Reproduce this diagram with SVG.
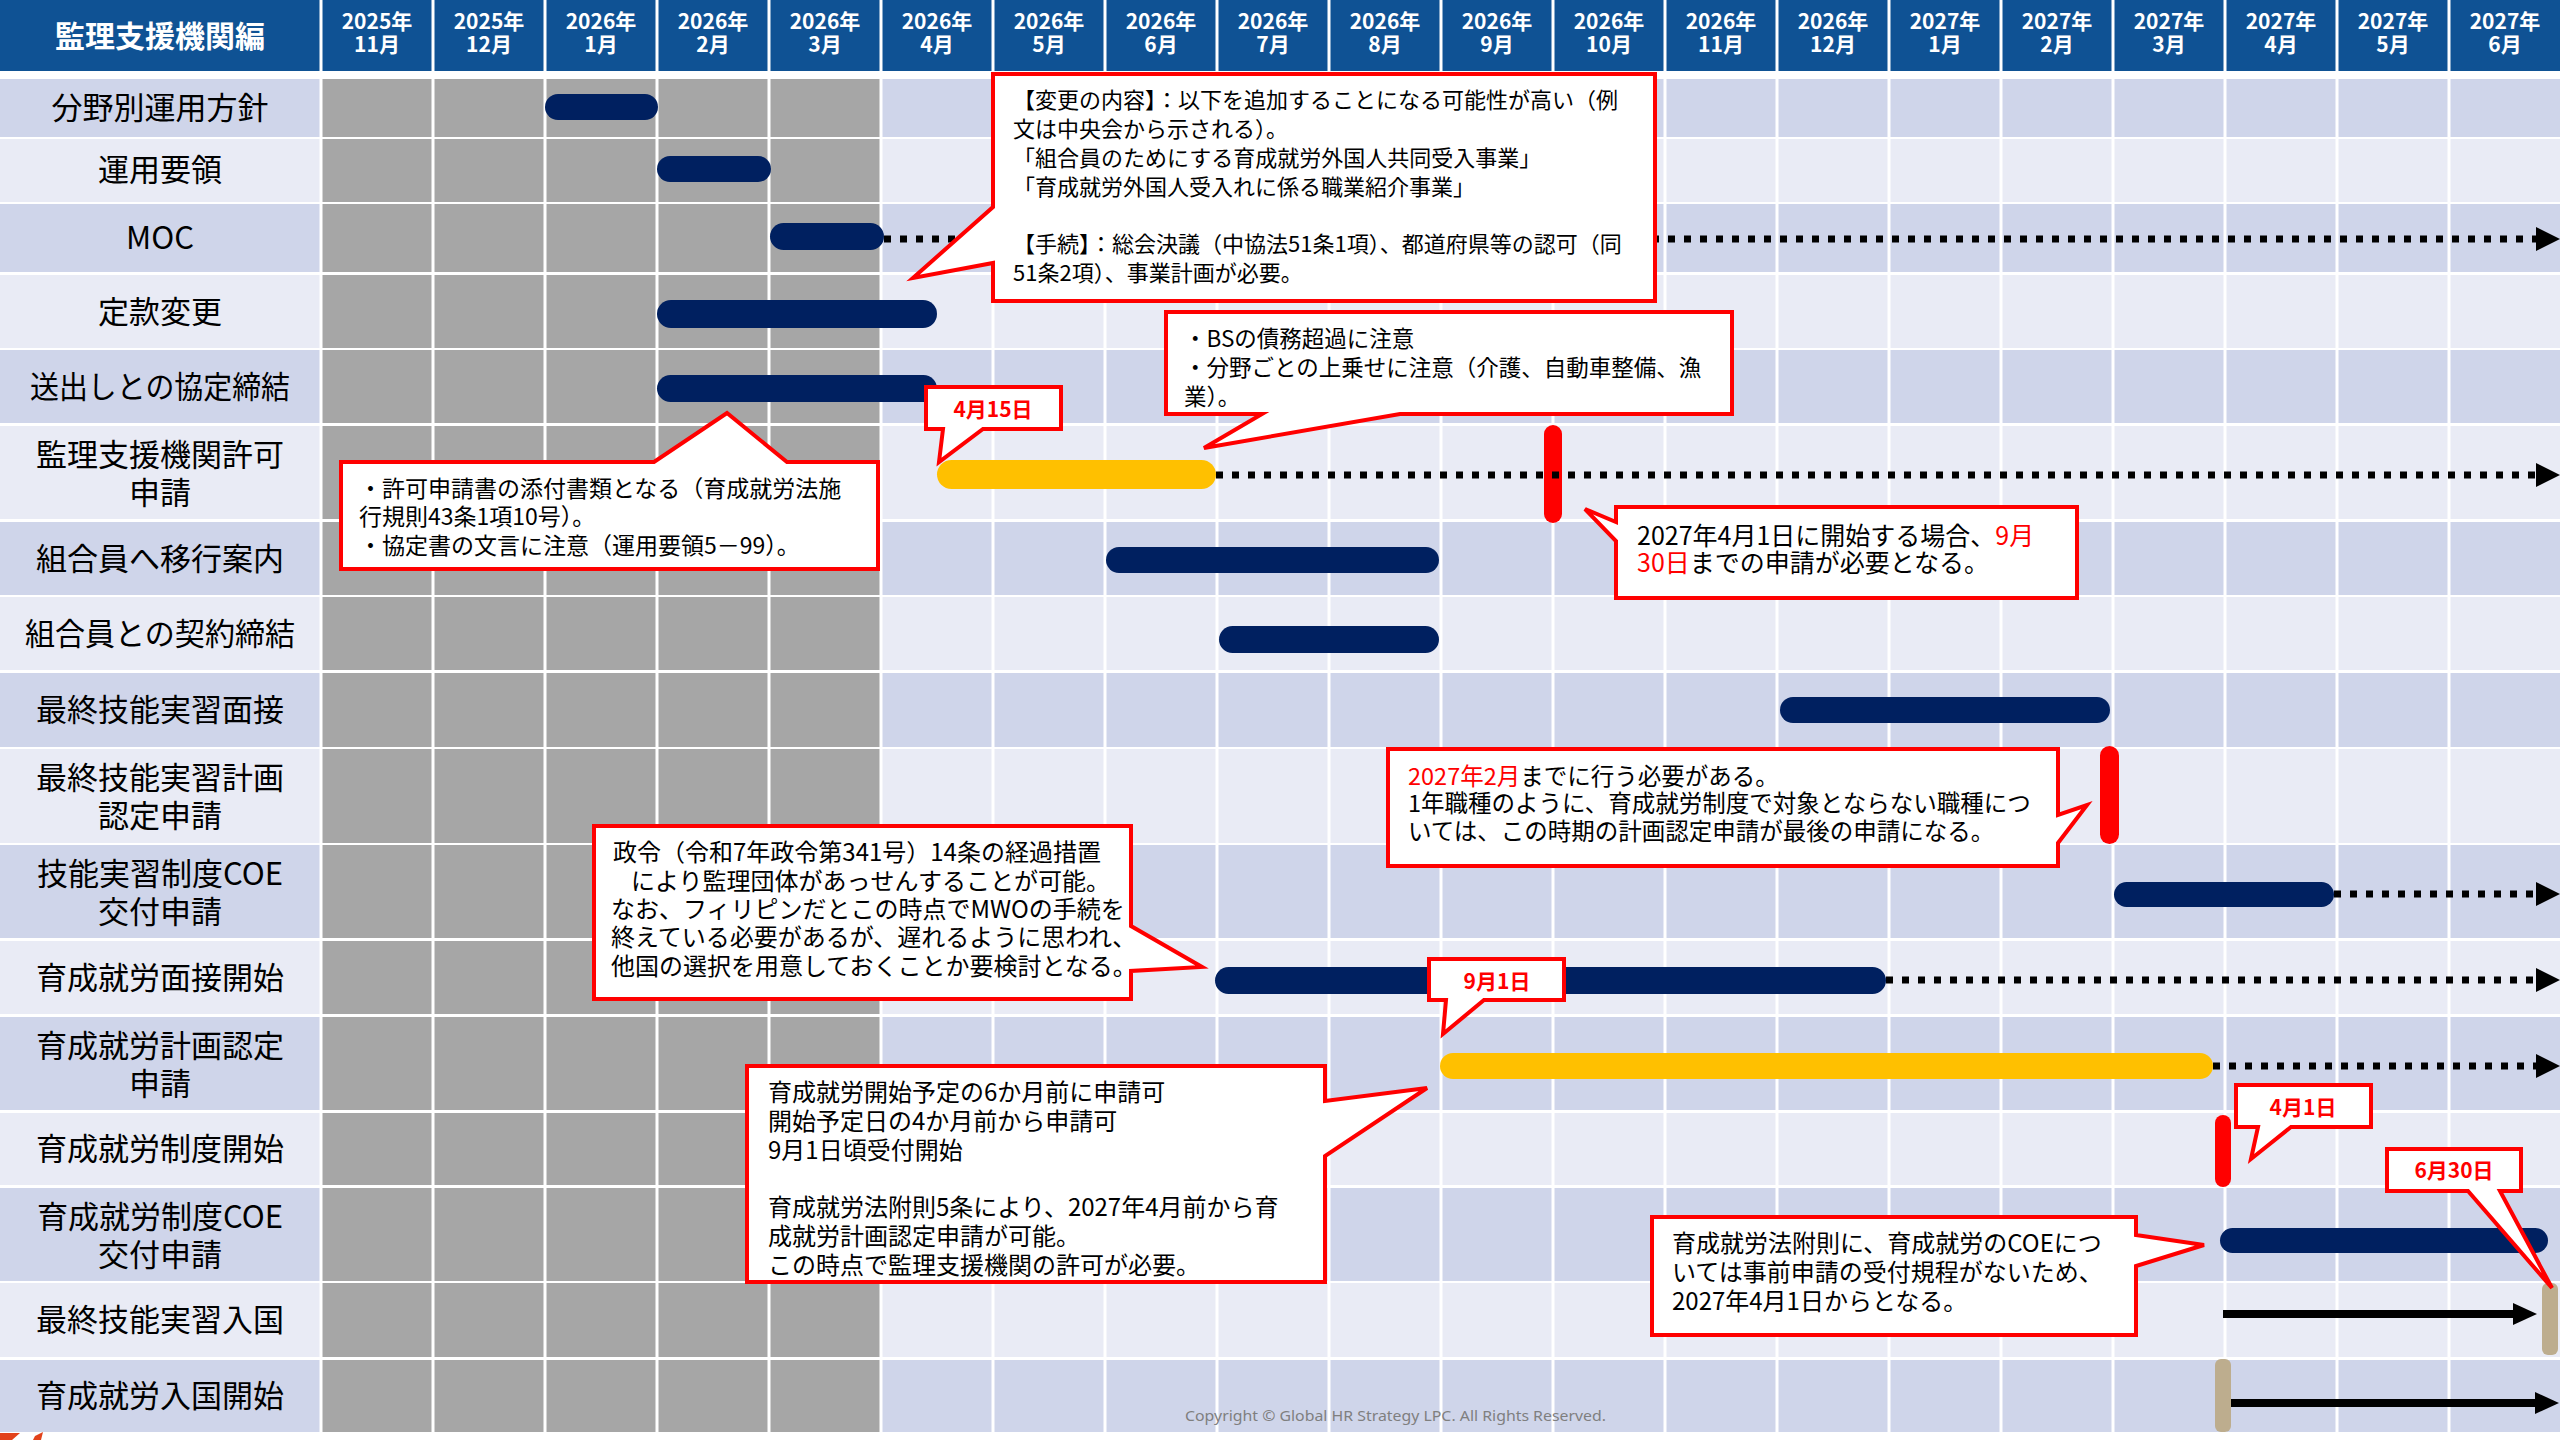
<svg xmlns="http://www.w3.org/2000/svg" width="2560" height="1440" viewBox="0 0 2560 1440">
<defs>
<style>
text{font-family:"Noto Sans CJK JP","Noto Sans",sans-serif}
.lbl{font-size:31px;fill:#000;text-anchor:middle}
.hdr{font-size:21px;font-weight:bold;fill:#fff;text-anchor:middle}
.ttl{font-size:30px;font-weight:bold;fill:#fff;text-anchor:middle}
.odd{fill:#CFD5EA}
.even{fill:#E9EBF5}
.gray{fill:#A6A6A6}
.bar{fill:#002060}
.ybar{fill:#FFC000}
.rbar{fill:#FF0000}
.tbar{fill:#BDAD8E}
.dot{stroke:#000;stroke-width:7;stroke-dasharray:7 9;fill:none}
.arr{stroke:#000;stroke-width:8;fill:none}
.co{fill:#fff;stroke:#FF0000;stroke-width:4;stroke-linejoin:miter}
.ct{fill:#000}
.red{fill:#FF0000}
.tag{font-size:21px;font-weight:bold;fill:#FF0000;text-anchor:middle}
.copy{font-family:"Noto Sans","Open Sans",sans-serif;font-size:15px;fill:#7F7F7F}
</style>
<marker id="ahDot" markerUnits="userSpaceOnUse" markerWidth="24" markerHeight="24" refX="0" refY="12" orient="auto" viewBox="0 0 24 24"><path d="M0,0 L24,12 L0,24 Z" fill="#000"/></marker>
<marker id="ahSolid" markerUnits="userSpaceOnUse" markerWidth="24" markerHeight="22" refX="0" refY="11" orient="auto" viewBox="0 0 24 22"><path d="M0,0 L24,11 L0,22 Z" fill="#000"/></marker>
</defs>

<rect x="0" y="0" width="2560" height="1440" fill="#fff"/>

<g id="grid">
<rect x="0" y="0" width="2560" height="71" fill="#0F5294"/>
<rect class="odd" x="0" y="79" width="2560" height="58"/>
<rect class="even" x="0" y="139" width="2560" height="63"/>
<rect class="odd" x="0" y="204" width="2560" height="68"/>
<rect class="even" x="0" y="275" width="2560" height="73"/>
<rect class="odd" x="0" y="350" width="2560" height="73"/>
<rect class="even" x="0" y="426" width="2560" height="93"/>
<rect class="odd" x="0" y="522" width="2560" height="73"/>
<rect class="even" x="0" y="597" width="2560" height="73"/>
<rect class="odd" x="0" y="673" width="2560" height="74"/>
<rect class="even" x="0" y="749" width="2560" height="94"/>
<rect class="odd" x="0" y="845" width="2560" height="93"/>
<rect class="even" x="0" y="941" width="2560" height="73"/>
<rect class="odd" x="0" y="1017" width="2560" height="93"/>
<rect class="even" x="0" y="1113" width="2560" height="72"/>
<rect class="odd" x="0" y="1188" width="2560" height="93"/>
<rect class="even" x="0" y="1283" width="2560" height="74"/>
<rect class="odd" x="0" y="1360" width="2560" height="72"/>
<path class="gray" d="M321,79H881V137H321Z M321,139H881V202H321Z M321,204H881V272H321Z M321,275H881V348H321Z M321,350H881V423H321Z M321,426H881V519H321Z M321,522H881V595H321Z M321,597H881V670H321Z M321,673H881V747H321Z M321,749H881V843H321Z M321,845H881V938H321Z M321,941H881V1014H321Z M321,1017H881V1110H321Z M321,1113H881V1185H321Z M321,1188H881V1281H321Z M321,1283H881V1357H321Z M321,1360H881V1432H321Z"/>
<path d="M321,0V1432 M433,0V1432 M545,0V1432 M657,0V1432 M769,0V1432 M881,0V1432 M993,0V1432 M1105,0V1432 M1217,0V1432 M1329,0V1432 M1441,0V1432 M1553,0V1432 M1665,0V1432 M1777,0V1432 M1889,0V1432 M2001,0V1432 M2113,0V1432 M2225,0V1432 M2337,0V1432 M2449,0V1432" stroke="#fff" stroke-width="3" fill="none"/>
<path d="M0,1433 L20,1433 L12,1440 L0,1440 Z M35,1436 L43,1432 L41,1440 L33,1440 Z" fill="#E2421B"/>
</g>

<g id="header">
<text class="ttl" x="160" y="47">監理支援機関編</text>
<text class="hdr" x="377" y="29">2025年</text><text class="hdr" x="377" y="52">11月</text>
<text class="hdr" x="489" y="29">2025年</text><text class="hdr" x="489" y="52">12月</text>
<text class="hdr" x="601" y="29">2026年</text><text class="hdr" x="601" y="52">1月</text>
<text class="hdr" x="713" y="29">2026年</text><text class="hdr" x="713" y="52">2月</text>
<text class="hdr" x="825" y="29">2026年</text><text class="hdr" x="825" y="52">3月</text>
<text class="hdr" x="937" y="29">2026年</text><text class="hdr" x="937" y="52">4月</text>
<text class="hdr" x="1049" y="29">2026年</text><text class="hdr" x="1049" y="52">5月</text>
<text class="hdr" x="1161" y="29">2026年</text><text class="hdr" x="1161" y="52">6月</text>
<text class="hdr" x="1273" y="29">2026年</text><text class="hdr" x="1273" y="52">7月</text>
<text class="hdr" x="1385" y="29">2026年</text><text class="hdr" x="1385" y="52">8月</text>
<text class="hdr" x="1497" y="29">2026年</text><text class="hdr" x="1497" y="52">9月</text>
<text class="hdr" x="1609" y="29">2026年</text><text class="hdr" x="1609" y="52">10月</text>
<text class="hdr" x="1721" y="29">2026年</text><text class="hdr" x="1721" y="52">11月</text>
<text class="hdr" x="1833" y="29">2026年</text><text class="hdr" x="1833" y="52">12月</text>
<text class="hdr" x="1945" y="29">2027年</text><text class="hdr" x="1945" y="52">1月</text>
<text class="hdr" x="2057" y="29">2027年</text><text class="hdr" x="2057" y="52">2月</text>
<text class="hdr" x="2169" y="29">2027年</text><text class="hdr" x="2169" y="52">3月</text>
<text class="hdr" x="2281" y="29">2027年</text><text class="hdr" x="2281" y="52">4月</text>
<text class="hdr" x="2393" y="29">2027年</text><text class="hdr" x="2393" y="52">5月</text>
<text class="hdr" x="2505" y="29">2027年</text><text class="hdr" x="2505" y="52">6月</text>
</g>

<g id="row01"><text class="lbl" x="160" y="119">分野別運用方針</text><rect class="bar" x="545" y="94" width="113" height="26" rx="13"/></g>
<g id="row02"><text class="lbl" x="160" y="181">運用要領</text><rect class="bar" x="657" y="156" width="114" height="26" rx="13"/></g>
<g id="row03"><text class="lbl" x="160" y="249">MOC</text><rect class="bar" x="770" y="223" width="114" height="27" rx="13.5"/></g>
<g id="row04"><text class="lbl" x="160" y="323">定款変更</text><rect class="bar" x="657" y="300" width="280" height="28" rx="14"/></g>
<g id="row05"><text class="lbl" x="160" y="398" textLength="260" lengthAdjust="spacingAndGlyphs">送出しとの協定締結</text><rect class="bar" x="657" y="375" width="280" height="27" rx="13.5"/></g>
<g id="row06"><text class="lbl" x="160" y="466">監理支援機関許可</text><text class="lbl" x="160" y="504">申請</text><rect class="ybar" x="937" y="460" width="279" height="29" rx="14.5"/><rect class="rbar" x="1544" y="425" width="18" height="98" rx="9"/></g>
<g id="row07"><text class="lbl" x="160" y="570">組合員へ移行案内</text><rect class="bar" x="1106" y="547" width="333" height="26" rx="13"/></g>
<g id="row08"><text class="lbl" x="160" y="645" textLength="270" lengthAdjust="spacingAndGlyphs">組合員との契約締結</text><rect class="bar" x="1219" y="626" width="220" height="27" rx="13.5"/></g>
<g id="row09"><text class="lbl" x="160" y="721">最終技能実習面接</text><rect class="bar" x="1780" y="697" width="330" height="26" rx="13"/></g>
<g id="row10"><text class="lbl" x="160" y="789">最終技能実習計画</text><text class="lbl" x="160" y="827">認定申請</text><rect class="rbar" x="2100" y="746" width="19" height="98" rx="9.5"/></g>
<g id="row11"><text class="lbl" x="160" y="885">技能実習制度COE</text><text class="lbl" x="160" y="923">交付申請</text><rect class="bar" x="2114" y="882" width="220" height="25" rx="12.5"/></g>
<g id="row12"><text class="lbl" x="160" y="989">育成就労面接開始</text><rect class="bar" x="1215" y="967" width="671" height="27" rx="13.5"/></g>
<g id="row13"><text class="lbl" x="160" y="1057">育成就労計画認定</text><text class="lbl" x="160" y="1095">申請</text><rect class="ybar" x="1440" y="1053" width="773" height="26" rx="13"/></g>
<g id="row14"><text class="lbl" x="160" y="1160">育成就労制度開始</text><rect class="rbar" x="2215" y="1115" width="16" height="72" rx="8"/></g>
<g id="row15"><text class="lbl" x="160" y="1228">育成就労制度COE</text><text class="lbl" x="160" y="1266">交付申請</text><rect class="bar" x="2220" y="1228" width="328" height="25" rx="12.5"/></g>
<g id="row16"><text class="lbl" x="160" y="1331">最終技能実習入国</text><rect class="tbar" x="2542" y="1283" width="16" height="72" rx="6"/></g>
<g id="row17"><text class="lbl" x="160" y="1407">育成就労入国開始</text><rect class="tbar" x="2215" y="1359" width="16" height="73" rx="6"/></g>

<g id="connectors">
<path class="dot" d="M884,239 H2536" marker-end="url(#ahDot)"/>
<path class="dot" d="M1216,475 H2536" marker-end="url(#ahDot)"/>
<path class="dot" d="M2334,894 H2536" marker-end="url(#ahDot)"/>
<path class="dot" d="M1886,980 H2536" marker-end="url(#ahDot)"/>
<path class="dot" d="M2213,1066 H2536" marker-end="url(#ahDot)"/>
<path class="arr" d="M2223,1314 H2513" marker-end="url(#ahSolid)"/>
<path class="arr" d="M2231,1403 H2535" marker-end="url(#ahSolid)"/>
</g>

<g id="callout-change">
<path class="co" d="M993,74 H1655 V301 H993 V263 L913,278 L993,207 Z"/>
<text class="ct" font-size="22"><tspan x="1013" y="108">【変更の内容】：以下を追加することになる可能性が高い（例</tspan><tspan x="1013" y="137">文は中央会から示される）。</tspan><tspan x="1013" y="166">「組合員のためにする育成就労外国人共同受入事業」</tspan><tspan x="1013" y="195">「育成就労外国人受入れに係る職業紹介事業」</tspan><tspan x="1013" y="252">【手続】：総会決議（中協法51条1項）、都道府県等の認可（同</tspan><tspan x="1013" y="281">51条2項）、事業計画が必要。</tspan></text>
</g>

<g id="callout-bs">
<path class="co" d="M1166,312 H1732 V414 H1400 L1204,448 L1262,414 H1166 Z"/>
<text class="ct" font-size="22.5"><tspan x="1184" y="347">・BSの債務超過に注意</tspan><tspan x="1184" y="376">・分野ごとの上乗せに注意（介護、自動車整備、漁</tspan><tspan x="1184" y="405">業）。</tspan></text>
</g>

<g id="callout-permit-docs">
<path class="co" d="M341,462 H654 L727,413 L787,462 H878 V569 H341 Z"/>
<text class="ct" font-size="23"><tspan x="359" y="497">・許可申請書の添付書類となる（育成就労法施</tspan><tspan x="359" y="525">行規則43条1項10号）。</tspan><tspan x="359" y="554">・協定書の文言に注意（運用要領5－99）。</tspan></text>
</g>

<g id="callout-apr15">
<path class="co" d="M926,387 H1061 V429 H983 L939,462 L943,429 H926 Z"/>
<text class="tag" x="993" y="417">4月15日</text>
</g>

<g id="callout-sep30">
<path class="co" d="M1616,507 H2077 V598 H1616 V541 L1585,509 L1616,522 Z"/>
<text class="ct" font-size="25"><tspan x="1637" y="545">2027年4月1日に開始する場合、<tspan class="red">9月</tspan></tspan><tspan x="1637" y="572"><tspan class="red">30日</tspan>までの申請が必要となる。</tspan></text>
</g>

<g id="callout-feb2027">
<path class="co" d="M1388,749 H2058 V815 L2087,805 L2058,843 V866 H1388 Z"/>
<text class="ct" font-size="23.5"><tspan x="1408" y="785"><tspan class="red">2027年2月</tspan>までに行う必要がある。</tspan><tspan x="1408" y="812">1年職種のように、育成就労制度で対象とならない職種につ</tspan><tspan x="1408" y="840">いては、この時期の計画認定申請が最後の申請になる。</tspan></text>
</g>

<g id="callout-seirei">
<path class="co" d="M594,826 H1131 V926 L1202,967 L1131,971 V999 H594 Z"/>
<text class="ct" font-size="24"><tspan x="613" y="861">政令（令和7年政令第341号）14条の経過措置</tspan><tspan x="631" y="890">により監理団体があっせんすることが可能。</tspan><tspan x="611" y="918">なお、フィリピンだとこの時点でMWOの手続を</tspan><tspan x="611" y="946">終えている必要があるが、遅れるように思われ、</tspan><tspan x="611" y="975">他国の選択を用意しておくことか要検討となる。</tspan></text>
</g>

<g id="callout-sep1">
<path class="co" d="M1429,959 H1564 V1000 H1484 L1443,1034 L1446,1000 H1429 Z"/>
<text class="tag" x="1497" y="989">9月1日</text>
</g>

<g id="callout-plan">
<path class="co" d="M747,1066 H1325 V1101 L1427,1088 L1325,1156 V1282 H747 Z"/>
<text class="ct" font-size="24"><tspan x="768" y="1101">育成就労開始予定の6か月前に申請可</tspan><tspan x="768" y="1130">開始予定日の4か月前から申請可</tspan><tspan x="768" y="1159">9月1日頃受付開始</tspan><tspan x="768" y="1216">育成就労法附則5条により、2027年4月前から育</tspan><tspan x="768" y="1245">成就労計画認定申請が可能。</tspan><tspan x="768" y="1274">この時点で監理支援機関の許可が必要。</tspan></text>
</g>

<g id="callout-apr1">
<path class="co" d="M2236,1085 H2371 V1127 H2291 L2251,1159 L2258,1127 H2236 Z"/>
<text class="tag" x="2303" y="1115">4月1日</text>
</g>

<g id="callout-jun30">
<path class="co" d="M2387,1149 H2521 V1191 H2500 L2552,1288 L2468,1191 H2387 Z"/>
<text class="tag" x="2454" y="1178">6月30日</text>
</g>

<g id="callout-coe">
<path class="co" d="M1652,1217 H2136 V1235 L2204,1245 L2136,1266 V1335 H1652 Z"/>
<text class="ct" font-size="24"><tspan x="1672" y="1252">育成就労法附則に、育成就労のCOEにつ</tspan><tspan x="1672" y="1281">いては事前申請の受付規程がないため、</tspan><tspan x="1672" y="1310">2027年4月1日からとなる。</tspan></text>
</g>

<text class="copy" x="1185" y="1421" textLength="421" lengthAdjust="spacingAndGlyphs">Copyright © Global HR Strategy LPC. All Rights Reserved.</text>
</svg>
